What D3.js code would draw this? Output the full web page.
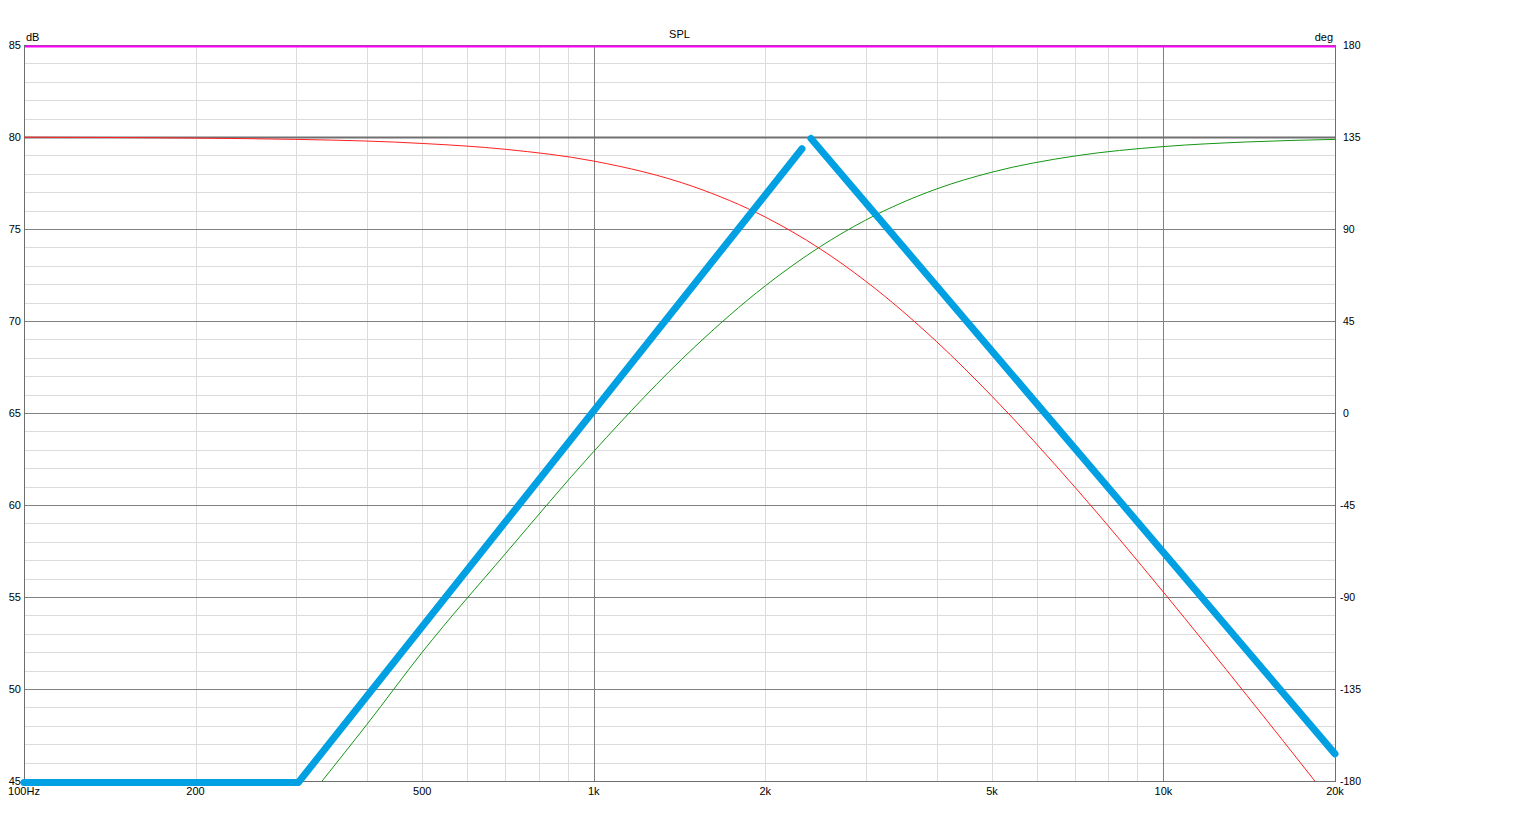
<!DOCTYPE html>
<html>

<head>
  <meta charset="utf-8">
  <script src="https://cdn.jsdelivr.net/npm/d3@7/dist/d3.min.js"></script>
  <style type="text/css">
    body {
      margin: 0;
      background: #fff;
      font-family: "Liberation Sans", Arial, sans-serif;
    }
    text {
      font-size: 11px;
      fill: #000;
    }
  </style>
</head>

<body>
  <script type="text/javascript">
    const width = 1536;
    const height = 840;

    // frequency axis
    const freqTicks = [100, 200, 500, 1000, 2000, 5000, 10000, 20000];
    const freqLabels = ['100Hz', '200', '500', '1k', '2k', '5k', '10k', '20k'];
    const dbTicks = [45, 50, 55, 60, 65, 70, 75, 80, 85];
    const degTicks = [-180, -135, -90, -45, 0, 45, 90, 135, 180];

    // red trace (dB)
    const redFreq = [100, 150, 200, 300, 400, 500, 700, 1000, 1500, 2000, 2500, 3000, 4000, 5000, 7000, 10000, 14000, 18500, 20000];
    const redDb = [79.99, 79.97, 79.94, 79.87, 79.78, 79.65, 79.33, 78.69, 77.29, 75.65, 73.91, 72.17, 68.87, 65.91, 60.95, 55.26, 49.66, 44.94, 43.6];

    // green trace (dB)
    const greenFreq = [300, 335, 400, 500, 700, 1000, 1500, 2000, 2500, 3000, 4000, 5000, 7000, 10000, 14000, 20000];
    const greenDb = [43.2, 45.07, 48.08, 52.0, 57.36, 62.91, 68.56, 71.91, 74.05, 75.48, 77.18, 78.09, 78.97, 79.48, 79.73, 79.87];

    // blue trace (deg, right axis), two pieces
    const blueFreqA = [100, 303, 2320];
    const blueDegA = [-180, -180, 130];
    const blueFreqB = [2406, 20000];
    const blueDegB = [135, -166];

    // flat reference lines
    const magentaDb = 85;
    const grayDb = 80;

    const m = { left: 24, right: 1335, top: 45, bottom: 781 };

    const svg = d3.select('body').append('svg')
      .attr('width', width)
      .attr('height', height);

    const x = d3.scaleLog().domain([100, 20000]).range([m.left, m.right]);
    const y = d3.scaleLinear().domain([45, 85]).range([m.bottom, m.top]);
    const yDeg = d3.scaleLinear().domain([-180, 180]).range([m.bottom, m.top]);

    svg.append('clipPath').attr('id', 'plot')
      .append('rect')
      .attr('x', m.left).attr('y', m.top)
      .attr('width', m.right - m.left).attr('height', m.bottom - m.top);

    // minor grid
    const minorF = [];
    [100, 1000, 10000].forEach(dec => {
      for (let k = 2; k <= 9; k++) if (dec * k < 20000) minorF.push(dec * k);
    });
    const grid = svg.append('g');
    grid.selectAll('.vminor').data(minorF).join('line')
      .attr('x1', d => Math.round(x(d)) + 0.5).attr('x2', d => Math.round(x(d)) + 0.5)
      .attr('y1', m.top).attr('y2', m.bottom)
      .attr('stroke', '#dcdcdc');
    grid.selectAll('.hminor').data(d3.range(46, 85).filter(d => d % 5 !== 0)).join('line')
      .attr('x1', m.left).attr('x2', m.right)
      .attr('y1', d => Math.round(y(d)) + 0.5).attr('y2', d => Math.round(y(d)) + 0.5)
      .attr('stroke', '#dcdcdc');

    // major grid
    grid.selectAll('.vmajor').data([1000, 10000]).join('line')
      .attr('x1', d => Math.round(x(d)) + 0.5).attr('x2', d => Math.round(x(d)) + 0.5)
      .attr('y1', m.top).attr('y2', m.bottom)
      .attr('stroke', '#808080');
    grid.selectAll('.hmajor').data(dbTicks.slice(1, -1)).join('line')
      .attr('x1', m.left).attr('x2', m.right)
      .attr('y1', d => Math.round(y(d)) + 0.5).attr('y2', d => Math.round(y(d)) + 0.5)
      .attr('stroke', '#808080');

    // frame
    svg.append('rect')
      .attr('x', m.left + 0.5).attr('y', m.top + 0.5)
      .attr('width', m.right - m.left).attr('height', m.bottom - m.top)
      .attr('fill', 'none').attr('stroke', '#6e6e6e');

    const plot = svg.append('g').attr('clip-path', 'url(#plot)');

    plot.append('line')
      .attr('x1', m.left).attr('x2', m.right)
      .attr('y1', y(grayDb) + 0.5).attr('y2', y(grayDb) + 0.5)
      .attr('stroke', '#707070').attr('stroke-width', 2);

    const lineDb = d3.line().x(d => x(d[0])).y(d => y(d[1])).curve(d3.curveMonotoneX);

    plot.append('path')
      .datum(d3.zip(greenFreq, greenDb))
      .attr('d', lineDb)
      .attr('fill', 'none').attr('stroke', '#139613').attr('stroke-width', 1);

    plot.append('path')
      .datum(d3.zip(redFreq, redDb))
      .attr('d', lineDb)
      .attr('fill', 'none').attr('stroke', '#ff2020').attr('stroke-width', 1);

    // magenta line along the top
    svg.append('line')
      .attr('x1', m.left + 1).attr('x2', m.right)
      .attr('y1', y(magentaDb) + 1.5).attr('y2', y(magentaDb) + 1.5)
      .attr('stroke', '#ff00ff').attr('stroke-width', 2);

    const lineDeg = d3.line().x(d => x(d[0])).y(d => yDeg(d[1]) + 1.5);
    [d3.zip(blueFreqA, blueDegA), d3.zip(blueFreqB, blueDegB)].forEach(seg => {
      svg.append('path')
        .datum(seg)
        .attr('d', lineDeg)
        .attr('fill', 'none')
        .attr('stroke', '#00a0e3')
        .attr('stroke-width', 7)
        .attr('stroke-linecap', 'round')
        .attr('stroke-linejoin', 'round');
    });

    // left axis labels
    svg.selectAll('.ldb').data(dbTicks).join('text')
      .attr('x', m.left - 3).attr('y', d => y(d) + 4)
      .attr('text-anchor', 'end')
      .text(d => d);

    // right axis labels, clipped like the original
    svg.append('clipPath').attr('id', 'rclip')
      .append('rect').attr('x', m.right).attr('y', 0).attr('width', 26).attr('height', height);
    svg.append('g').attr('clip-path', 'url(#rclip)')
      .selectAll('text').data(degTicks).join('text')
      .attr('x', d => d < 0 ? m.right + 5 : m.right + 8).attr('y', d => yDeg(d) + 4)
      .style('font-size', '10.5px')
      .text(d => d);

    // bottom labels
    svg.selectAll('.fl').data(freqTicks).join('text')
      .attr('x', d => x(d)).attr('y', m.bottom + 14)
      .attr('text-anchor', 'middle')
      .text((d, i) => freqLabels[i]);

    svg.append('text').attr('x', m.left + 2).attr('y', m.top - 4).text('dB');
    svg.append('text').attr('x', m.right - 2).attr('y', m.top - 4)
      .attr('text-anchor', 'end').text('deg');
    svg.append('text').attr('x', (m.left + m.right) / 2).attr('y', m.top - 7)
      .attr('text-anchor', 'middle').text('SPL');
  </script>
</body>

</html>
